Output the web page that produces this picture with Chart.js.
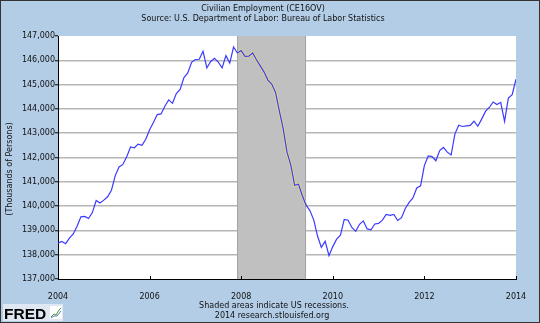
<!DOCTYPE html>
<html>
<head>
<meta charset="utf-8">
<script src="https://cdn.jsdelivr.net/npm/chart.js@4/dist/chart.umd.min.js"></script>
<style>
  html, body { margin: 0; padding: 0; background: #b3cde6; }
  #wrap { width: 540px; height: 323px; }
</style>
</head>
<body>
<div id="wrap"><canvas id="ce16ov" width="540" height="323"></canvas></div>
<script>
// Civilian employment, monthly, thousands of persons (Jan 2004 - Jan 2014)
const startYear = 2004;
const employment = [
  138472, 138542, 138453, 138680, 138852, 139174, 139556, 139573, 139487, 139732, 140231, 140125,
  140245, 140385, 140654, 141254, 141609, 141714, 142026, 142434, 142401, 142548, 142499, 142752,
  143142, 143444, 143765, 143794, 144108, 144370, 144229, 144631, 144797, 145292, 145477, 145914,
  146032, 146043, 146368, 145686, 145952, 146079, 145926, 145685, 146193, 145885, 146547, 146300,
  146400, 146165, 146173, 146306, 146023, 145768, 145515, 145187, 145021, 144677, 143907, 143188,
  142221, 141687, 140854, 140902, 140438, 140038, 139817, 139433, 138768, 138300, 138550, 137960,
  138333, 138641, 138800, 139455, 139420, 139119, 138960, 139250, 139391, 139061, 139028, 139266,
  139287, 139422, 139655, 139622, 139653, 139409, 139524, 139904, 140154, 140335, 140747, 140836,
  141677, 142065, 142034, 141865, 142287, 142415, 142220, 142101, 142974, 143328, 143277, 143305,
  143322, 143492, 143286, 143579, 143898, 144058, 144285, 144179, 144270, 143485, 144443, 144586,
  145224
];

// recession: Dec 2007 - Jun 2009 (year, month)
const recessionStart = [2007, 12];
const recessionEnd = [2009, 6];

const yTicks = [137000, 138000, 139000, 140000, 141000, 142000, 143000, 144000, 145000, 146000, 147000];
const xTicks = [2004, 2006, 2008, 2010, 2012, 2014];

const titleLines = ['Civilian Employment (CE16OV)', 'Source: U.S. Department of Labor: Bureau of Labor Statistics'];
const footLines = ['Shaded areas indicate US recessions.', '2014 research.stlouisfed.org'];
const yTitle = '(Thousands of Persons)';

const FONT = '"DejaVu Sans", Verdana, sans-serif';
const toYear = ([y, m]) => y + (m - 1) / 12;
const recFrom = toYear(recessionStart);
const recTo = toYear(recessionEnd);

const points = employment.map((v, i) => ({ x: startYear + i / 12, y: v }));

const fredFrame = {
  id: 'fredFrame',
  beforeDraw(chart) {
    const { ctx, chartArea: a } = chart;
    ctx.save();
    ctx.fillStyle = '#b3cde6';
    ctx.fillRect(0, 0, chart.width, chart.height);
    ctx.fillStyle = '#ffffff';
    ctx.fillRect(a.left, a.top, a.right - a.left, a.bottom - a.top);
    ctx.restore();
  },
  beforeDatasetsDraw(chart) {
    const { ctx, chartArea: a, scales: { x } } = chart;
    const x0 = x.getPixelForValue(recFrom);
    const x1 = x.getPixelForValue(recTo);
    ctx.save();
    ctx.fillStyle = '#c0c0c0';
    ctx.fillRect(x0, a.top, x1 - x0, a.bottom - a.top);
    ctx.strokeStyle = '#a4a4a4';
    ctx.lineWidth = 1;
    ctx.beginPath();
    ctx.moveTo(Math.round(x0) + 0.5, a.top); ctx.lineTo(Math.round(x0) + 0.5, a.bottom);
    ctx.moveTo(Math.round(x1) - 0.5, a.top); ctx.lineTo(Math.round(x1) - 0.5, a.bottom);
    ctx.stroke();
    ctx.restore();
  },
  afterDraw(chart) {
    const { ctx, chartArea: a, scales: { x } } = chart;
    ctx.save();
    // year ticks pointing up from the date axis
    ctx.strokeStyle = '#000';
    ctx.lineWidth = 1;
    ctx.beginPath();
    xTicks.forEach(t => {
      const px = Math.round(x.getPixelForValue(t)) + 0.5;
      ctx.moveTo(px, a.bottom - 3);
      ctx.lineTo(px, a.bottom);
    });
    ctx.stroke();

    ctx.fillStyle = '#111';
    ctx.font = '8px ' + FONT;
    ctx.textAlign = 'center';
    ctx.textBaseline = 'alphabetic';
    ctx.fillText(titleLines[0], 263, 10.5);
    ctx.fillText(titleLines[1], 263, 20.5);
    ctx.fillText(footLines[0], 274, 307.5);
    ctx.fillText(footLines[1], 272, 317.5);

    ctx.save();
    ctx.translate(12, 169);
    ctx.rotate(-Math.PI / 2);
    ctx.fillText(yTitle, 0, 0);
    ctx.restore();

    // FRED badge
    ctx.fillStyle = '#dfe8f2';
    ctx.fillRect(3, 304, 60, 17);
    ctx.fillStyle = '#000';
    ctx.font = 'bold 15.5px "Liberation Sans", Arial, sans-serif';
    ctx.textAlign = 'left';
    ctx.fillText('FRED', 4, 318.5);
    ctx.fillStyle = '#ffffff';
    ctx.fillRect(50, 306, 12, 13);
    ctx.lineWidth = 1;
    ctx.strokeStyle = '#4a9a3a';
    ctx.beginPath();
    ctx.moveTo(51, 317); ctx.lineTo(54, 314); ctx.lineTo(56, 315); ctx.lineTo(59, 310); ctx.lineTo(61, 308);
    ctx.stroke();
    ctx.strokeStyle = '#5a7fc0';
    ctx.beginPath();
    ctx.moveTo(51, 318); ctx.lineTo(54, 316); ctx.lineTo(57, 316); ctx.lineTo(61, 311);
    ctx.stroke();

    // outer frame
    ctx.strokeStyle = '#333';
    ctx.lineWidth = 1;
    ctx.strokeRect(0.5, 0.5, chart.width - 1, chart.height - 1);
    ctx.restore();
  }
};

new Chart(document.getElementById('ce16ov'), {
  type: 'line',
  data: {
    datasets: [
      {
        data: points,
        borderColor: '#3a3aff',
        borderWidth: 1.2,
        pointRadius: 0,
        tension: 0,
        order: 0
      },
      {
        // pale halo under the line inside the shaded period
        data: points,
        borderWidth: 2.6,
        pointRadius: 0,
        tension: 0,
        order: 1,
        segment: {
          borderColor: c => (c.p0.parsed.x >= recFrom && c.p1.parsed.x <= recTo) ? '#e4da7a' : 'rgba(0,0,0,0)'
        }
      }
    ]
  },
  options: {
    responsive: false,
    animation: false,
    events: [],
    layout: { padding: { top: 36, right: 24, left: 0, bottom: 0 } },
    plugins: { legend: { display: false }, tooltip: { enabled: false }, title: { display: false } },
    scales: {
      x: {
        type: 'linear',
        min: 2004,
        max: 2014,
        afterBuildTicks: s => { s.ticks = xTicks.map(v => ({ value: v })); },
        afterFit: s => { s.height = 44; },
        grid: { display: false },
        border: { display: true, color: '#000', width: 1 },
        ticks: {
          padding: 5,
          color: '#111',
          font: { family: FONT, size: 8 },
          maxRotation: 0,
          callback: v => String(v)
        }
      },
      y: {
        min: 137000,
        max: 147000,
        afterBuildTicks: s => { s.ticks = yTicks.map(v => ({ value: v })); },
        afterFit: s => { s.width = 58; },
        grid: {
          color: c => (c.tick && (c.tick.value === 137000 || c.tick.value === 147000)) ? 'rgba(0,0,0,0)' : '#b6b6b6',
          lineWidth: 1.5,
          tickColor: '#000',
          tickWidth: 1,
          tickLength: 3
        },
        border: { display: true, color: '#000', width: 1 },
        ticks: {
          padding: 0,
          color: '#111',
          font: { family: FONT, size: 8 },
          callback: v => v.toLocaleString('en-US')
        }
      }
    }
  },
  plugins: [fredFrame]
});
</script>
</body>
</html>
